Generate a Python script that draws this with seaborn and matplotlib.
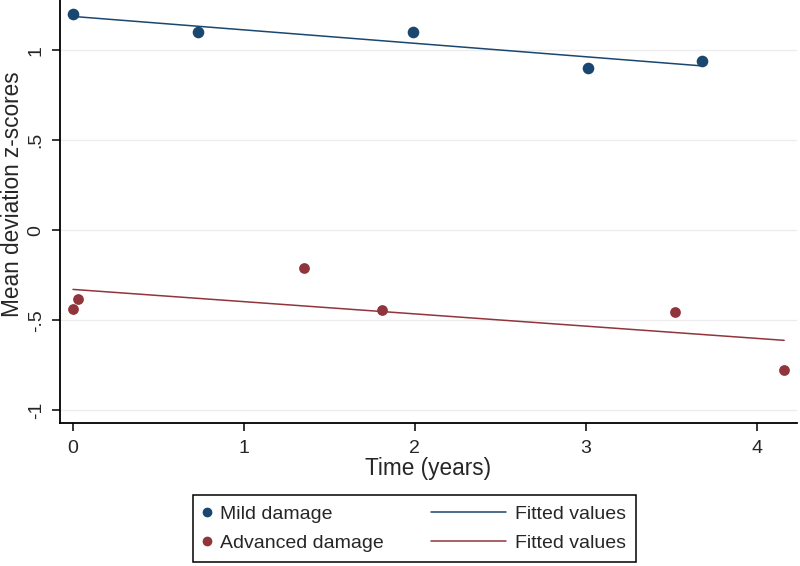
import numpy as np
import pandas as pd
import matplotlib
matplotlib.use("Agg")
import matplotlib.pyplot as plt
import seaborn as sns
from matplotlib.legend_handler import HandlerLine2D
from matplotlib.lines import Line2D

# values
mild_time = [0.0, 0.73, 1.99, 3.01, 3.68]
mild_md = [1.20, 1.10, 1.10, 0.90, 0.94]

adv_time = [0.0, 0.03, 1.35, 1.81, 3.52, 4.16]
adv_md = [-0.44, -0.385, -0.21, -0.445, -0.455, -0.78]

xtick_values = [0, 1, 2, 3, 4]
ytick_values = [-1, -0.5, 0, 0.5, 1]
ytick_labels = ["-1", "-.5", "0", ".5", "1"]

navy = "#1a476f"
maroon = "#90353b"


class LongLine(HandlerLine2D):
    # draw the legend line further to the left than the handle box
    def create_artists(self, legend, orig_handle, xdescent, ydescent,
                       width, height, fontsize, trans):
        ext = 3.46 * fontsize
        return super().create_artists(legend, orig_handle, xdescent + ext, ydescent,
                                      width + ext, height, fontsize, trans)


sns.set_style("white")
plt.rcParams["font.family"] = ["Liberation Sans", "DejaVu Sans"]

mild = pd.DataFrame({"time": mild_time, "md": mild_md})
adv = pd.DataFrame({"time": adv_time, "md": adv_md})

fig = plt.figure(figsize=(8, 5.66), dpi=100)
# plot region runs a little past the top edge of the picture, as in the reference
ax = fig.add_axes([0.075, 0.252, 0.921, 0.809])

# light horizontal grid
for yv in ytick_values:
    ax.axhline(yv, color="#ececec", linewidth=0.9, zorder=0)

sns.scatterplot(data=mild, x="time", y="md", color=navy, s=70, linewidth=0, ax=ax, zorder=3)
sns.scatterplot(data=adv, x="time", y="md", color=maroon, s=60, linewidth=0, ax=ax, zorder=3)
sns.regplot(data=mild, x="time", y="md", scatter=False, ci=None, color=navy,
            line_kws={"linewidth": 1.1}, ax=ax)
sns.regplot(data=adv, x="time", y="md", scatter=False, ci=None, color=maroon,
            line_kws={"linewidth": 1.1}, ax=ax)

ax.set_xlim(-0.076, 4.234)
ax.set_ylim(-1.074, 1.472)
ax.set_xticks(xtick_values)
ax.set_yticks(ytick_values)
ax.set_yticklabels(ytick_labels, rotation=90, va="center")
ax.tick_params(axis="both", direction="out", length=6, width=1.1, color="black",
               labelsize=14, pad=6, left=True, bottom=True)
ax.tick_params(axis="y", pad=5)

for side in ["top", "right"]:
    ax.spines[side].set_visible(False)
for side in ["left", "bottom"]:
    ax.spines[side].set_color("black")
    ax.spines[side].set_linewidth(1.3)

ax.set_xlabel("Time (years)", fontsize=16.3, labelpad=0)
ax.set_ylabel("Mean deviation z-scores", fontsize=16.3, labelpad=3)

handles = [
    Line2D([], [], linestyle="none", marker="o", markersize=6, color=navy),
    Line2D([], [], linestyle="none", marker="o", markersize=6, color=maroon),
    Line2D([], [], color=navy, linewidth=1.1),
    Line2D([], [], color=maroon, linewidth=1.1),
]
labels = ["Mild damage", "Advanced damage", "Fitted values", "Fitted values"]
leg = fig.legend(handles, labels, ncol=2, loc="upper center",
                 bbox_to_anchor=(0.518, 0.1254), fontsize=14,
                 frameon=True, fancybox=False, framealpha=1,
                 edgecolor="black", handlelength=0.4, handletextpad=0.45,
                 columnspacing=5.9, labelspacing=0.6, borderpad=0.52,
                 borderaxespad=0,
                 handler_map={handles[2]: LongLine(), handles[3]: LongLine()})
leg.get_frame().set_linewidth(1.1)

fig.savefig("out.png", dpi=100)
